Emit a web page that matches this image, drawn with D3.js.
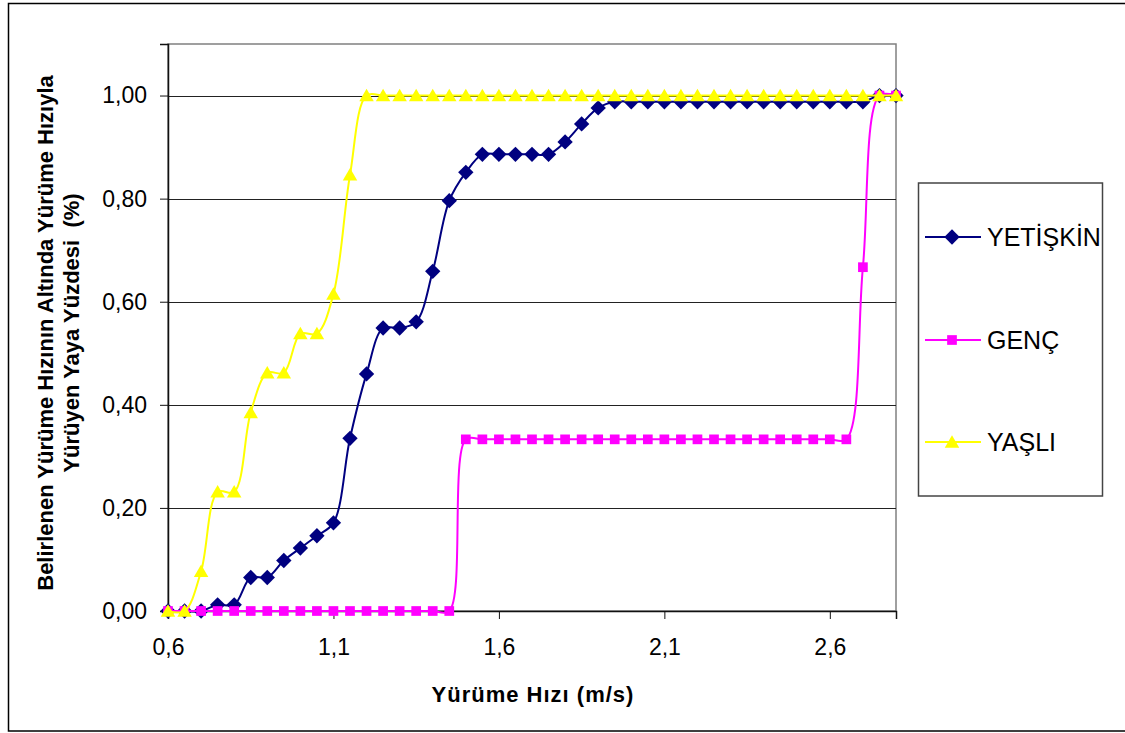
<!DOCTYPE html>
<html>
<head>
<meta charset="utf-8">
<script src="https://cdn.jsdelivr.net/npm/d3@7"></script>
<style>
  body { margin: 0; background: #fff; }
  svg { display: block; font-family: "Liberation Sans", Arial, sans-serif; }
</style>
</head>
<body>
<svg id="chart" width="1125" height="733"></svg>
<script>
// walking speed (m/s)
const speeds = [0.6, 0.65, 0.7, 0.75, 0.8, 0.85, 0.9, 0.95, 1.0, 1.05, 1.1, 1.15, 1.2, 1.25, 1.3,
  1.35, 1.4, 1.45, 1.5, 1.55, 1.6, 1.65, 1.7, 1.75, 1.8, 1.85, 1.9, 1.95, 2.0, 2.05, 2.1,
  2.15, 2.2, 2.25, 2.3, 2.35, 2.4, 2.45, 2.5, 2.55, 2.6, 2.65, 2.7, 2.75, 2.8];

const yetiskin = [0, 0, 0, 0.012, 0.012, 0.065, 0.065, 0.098, 0.122, 0.146, 0.171, 0.335, 0.46, 0.549, 0.549,
  0.561, 0.659, 0.796, 0.851, 0.886, 0.886, 0.886, 0.886, 0.886, 0.91, 0.945, 0.976, 0.988, 0.988, 0.988, 0.988,
  0.988, 0.988, 0.988, 0.988, 0.988, 0.988, 0.988, 0.988, 0.988, 0.988, 0.988, 0.988, 1, 1];

const genc = [0, 0, 0, 0, 0, 0, 0, 0, 0, 0, 0, 0, 0, 0, 0,
  0, 0, 0, 0.333, 0.333, 0.333, 0.333, 0.333, 0.333, 0.333, 0.333, 0.333, 0.333, 0.333, 0.333, 0.333,
  0.333, 0.333, 0.333, 0.333, 0.333, 0.333, 0.333, 0.333, 0.333, 0.333, 0.333, 0.667, 1, 1];

const yasli = [0, 0, 0.077, 0.231, 0.231, 0.385, 0.462, 0.462, 0.538, 0.538, 0.615, 0.846, 1, 1, 1,
  1, 1, 1, 1, 1, 1, 1, 1, 1, 1, 1, 1, 1, 1, 1, 1,
  1, 1, 1, 1, 1, 1, 1, 1, 1, 1, 1, 1, 1, 1];

const xTicks = [0.6, 1.1, 1.6, 2.1, 2.6];
const yTicks = [0, 0.2, 0.4, 0.6, 0.8, 1.0];

const seriesNames = ["YETİŞKİN", "GENÇ", "YAŞLI"];
const seriesValues = [yetiskin, genc, yasli];
const seriesColors = ["#000080", "#FF00FF", "#FFFF00"];
const seriesSymbols = [d3.symbolDiamond2, d3.symbolSquare2, d3.symbolTriangle2];
const symbolSizes = [150, 120, 150];

const svg = d3.select("#chart");
const font = "\"Liberation Sans\", Arial, sans-serif";

// comma decimal like the original
const tr = d3.formatLocale({ decimal: ",", thousands: ".", grouping: [3], currency: ["", ""] });
const fmtX = tr.format(".1f");
const fmtY = tr.format(".2f");

//outer frame
svg.append("rect")
  .attr("x", 8.5).attr("y", 3.5)
  .attr("width", 1130).attr("height", 727.5)
  .attr("fill", "#fff").attr("stroke", "#000").attr("stroke-width", 1.5);

const margin = { top: 44, left: 168, right: 229, bottom: 122 };
const width = 1125 - margin.left - margin.right;
const height = 733 - margin.top - margin.bottom;

const g = svg.append("g").attr("transform", `translate(${margin.left},${margin.top})`);

const x = d3.scaleLinear().domain([0.6, 2.8]).range([0, width]);
const y = d3.scaleLinear().domain([0, 1.1]).range([height, 0]);

//plot area border
g.append("rect")
  .attr("x", 0).attr("y", 0)
  .attr("width", width).attr("height", height)
  .attr("fill", "none").attr("stroke", "#808080").attr("stroke-width", 1.5);

//gridlines
g.append("g")
  .selectAll("line")
  .data(yTicks.filter(d => d > 0))
  .join("line")
  .attr("x1", 0).attr("x2", width)
  .attr("y1", d => Math.round(y(d)) + 0.5).attr("y2", d => Math.round(y(d)) + 0.5)
  .attr("stroke", "#222").attr("stroke-width", 1);

//x axis
const xAxis = g.append("g")
  .attr("transform", `translate(0,${height})`)
  .call(d3.axisBottom(x).tickValues(xTicks).tickFormat(fmtX).tickSize(8).tickPadding(20));
xAxis.select(".domain").attr("stroke", "#111").attr("stroke-width", 1.5);
xAxis.selectAll(".tick line").attr("stroke", "#111");
xAxis.selectAll("text").attr("font-family", font).attr("font-size", 23).attr("fill", "#000");

//y axis
const yAxis = g.append("g")
  .call(d3.axisLeft(y).tickValues(yTicks).tickFormat(fmtY).tickSize(8).tickPadding(13));
yAxis.select(".domain").attr("stroke", "#111").attr("stroke-width", 1.5);
yAxis.selectAll(".tick line").attr("stroke", "#111");
yAxis.selectAll("text").attr("font-family", font).attr("font-size", 23).attr("fill", "#000");

//series: smoothed line then markers
const line = d3.line()
  .x(d => x(d[0]))
  .y(d => y(d[1]))
  .curve(d3.curveCatmullRom.alpha(0.5));

seriesValues.forEach((vals, i) => {
  const pts = speeds.map((s, k) => [s, vals[k]]);
  g.append("path")
    .datum(pts)
    .attr("d", line)
    .attr("fill", "none")
    .attr("stroke", seriesColors[i])
    .attr("stroke-width", 2);
  g.append("g")
    .selectAll("path")
    .data(pts)
    .join("path")
    .attr("transform", d => `translate(${x(d[0])},${y(d[1]) + (i === 2 ? 1.5 : 0)})`)
    .attr("d", d3.symbol().type(seriesSymbols[i]).size(symbolSizes[i]))
    .attr("fill", seriesColors[i]);
});

//axis titles
svg.append("text")
  .attr("x", 533).attr("y", 702)
  .attr("text-anchor", "middle")
  .attr("font-family", font)
  .attr("font-size", 22)
  .attr("font-weight", "bold")
  .attr("letter-spacing", 1)
  .text("Yürüme Hızı (m/s)");

const yt = svg.append("text")
  .attr("transform", "translate(53,333) rotate(-90)")
  .attr("text-anchor", "middle")
  .attr("font-family", font)
  .attr("font-size", 22)
  .attr("font-weight", "bold");
yt.append("tspan").attr("x", 0).attr("y", 0).text("Belirlenen Yürüme Hızının Altında Yürüme Hızıyla");
yt.append("tspan").attr("x", 0).attr("y", 26).attr("xml:space", "preserve").text("Yürüyen Yaya Yüzdesi  (%)");

//legend
const lg = svg.append("g");
lg.append("rect")
  .attr("x", 918.5).attr("y", 183)
  .attr("width", 184).attr("height", 313)
  .attr("fill", "#fff").attr("stroke", "#444").attr("stroke-width", 1.5);

const legendY = [237, 340, 442];
seriesNames.forEach((name, i) => {
  const item = lg.append("g").attr("transform", `translate(0,${legendY[i]})`);
  item.append("line")
    .attr("x1", 925).attr("x2", 981)
    .attr("stroke", seriesColors[i]).attr("stroke-width", 2);
  item.append("path")
    .attr("transform", `translate(952,${i === 2 ? 1.5 : 0})`)
    .attr("d", d3.symbol().type(seriesSymbols[i]).size(symbolSizes[i]))
    .attr("fill", seriesColors[i]);
  item.append("text")
    .attr("x", 987).attr("y", 9)
    .attr("font-family", font)
    .attr("font-size", 25)
    .attr("fill", "#000")
    .text(name);
});
</script>
</body>
</html>
